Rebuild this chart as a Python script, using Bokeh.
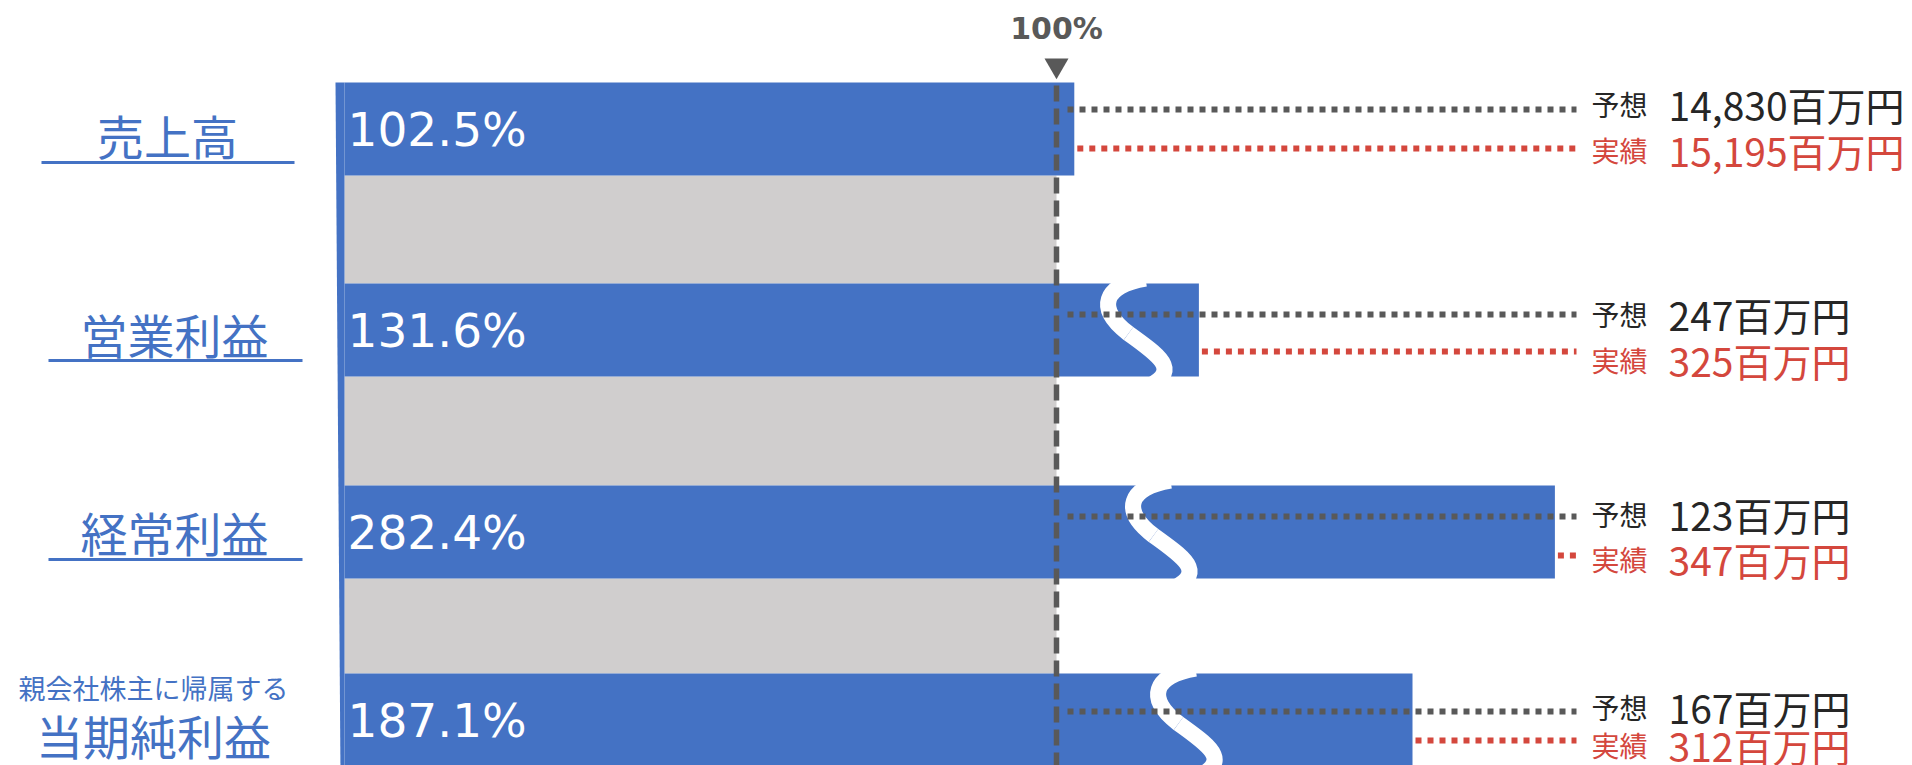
from bokeh.plotting import figure
from bokeh.models import Range1d, ColumnDataSource
from bokeh.core.properties import value
from bokeh.embed import file_html
from bokeh.resources import INLINE

# ---------------- data ----------------
categories = ["売上高", "営業利益", "経常利益", "当期純利益"]
category_prefix = ["", "", "", "親会社株主に帰属する"]
achievement_pct = [102.5, 131.6, 282.4, 187.1]
# bar lengths as drawn on the broken (wavy-cut) axis
drawn_pct = [102.5, 120.0, 170.0, 150.0]
has_break = [False, True, True, True]
forecast_pct = [100, 100, 100, 100]
forecast_mil = [14830, 247, 123, 167]
actual_mil = [15195, 325, 347, 312]
forecast_label = "予想"
actual_label = "実績"
unit = "百万円"
reference_label = "100%"

# ---------------- layout ----------------
W, H = 1912, 765
PX0, PX_PER = 344.0, 7.12          # screen x of 0 %, pixels per 1 %


def xp(px):
    return (px - PX0) / PX_PER


row_top = [82, 283, 485, 673]
bar_h = 93
fc_line_y = [109, 314, 516, 711]
ac_line_y = [148, 351, 555, 740]
fc_text_y = [103, 313, 513, 706]
ac_text_y = [149, 359, 558, 744]
label_cx = [167, 174, 174, 153]
label_cy = [134, 333, 531, 734]
underline_y = [162, 360, 559]
underline_x = [(41, 294), (48, 302), (48, 302)]
break_dx = [0, 1103, 1128, 1153]

BLUE = "#4472C4"
GREY = "#D0CECE"
DARK = "#595959"
RED = "#D4473D"
TXT = "#262626"
JP = value("Noto Sans CJK JP")

p = figure(width=W, height=H, output_backend="svg", toolbar_location=None,
           x_range=Range1d(xp(0), xp(W)), y_range=Range1d(H, 0),
           x_axis_location=None, y_axis_location=None, min_border=0,
           outline_line_color=None, background_fill_color="white")
p.xgrid.visible = False
p.ygrid.visible = False

n = len(categories)

# grey 100% (forecast) bars between the blue ones
g_top, g_bot, g_right = [], [], []
for i in range(n - 1):
    g_top.append(row_top[i] + bar_h)
    g_bot.append(row_top[i + 1])
    g_right.append(forecast_pct[i])
p.quad(left=0, right=g_right, top=g_top, bottom=g_bot, fill_color=GREY, line_color=None)

# blue achievement bars
tops = row_top
bots = [t + bar_h for t in row_top]
p.quad(left=0, right=drawn_pct, top=tops, bottom=bots, fill_color=BLUE, line_color=None)

# thin blue left edge strip
p.patch(x=[xp(335), xp(344), xp(344), xp(340)], y=[row_top[0], row_top[0], H + 10, H + 10],
        fill_color=BLUE, line_color=None)

# wavy break marks
bz = dict(x0=[], y0=[], x1=[], y1=[], cx0=[], cy0=[], cx1=[], cy1=[])
for i in range(n):
    if not has_break[i]:
        continue
    d, T = break_dx[i], row_top[i]
    segs = [((d + 42, T - 5), (d + 0, T + 2), (d - 8, T + 25), (d + 25, T + 50)),
            ((d + 25, T + 50), (d + 55, T + 72), (d + 82, T + 88), (d + 38, T + 106))]
    for (a, c0, c1, b) in segs:
        bz["x0"].append(xp(a[0])); bz["y0"].append(a[1])
        bz["cx0"].append(xp(c0[0])); bz["cy0"].append(c0[1])
        bz["cx1"].append(xp(c1[0])); bz["cy1"].append(c1[1])
        bz["x1"].append(xp(b[0])); bz["y1"].append(b[1])
p.bezier(x0="x0", y0="y0", x1="x1", y1="y1", cx0="cx0", cy0="cy0", cx1="cx1", cy1="cy1",
         source=ColumnDataSource(bz), line_color="white", line_width=16)

# percentage labels inside bars
p.text(x=[xp(347)] * n, y=[t + bar_h / 2 for t in row_top],
       text=[f"{v:.1f}%" for v in achievement_pct],
       text_font=value("DejaVu Sans"), text_font_size="47px", text_color="white",
       text_baseline="middle", text_align="left")

# dotted leader lines
end_x = xp(1576)
p.segment(x0=[xp(1067)] * n, y0=fc_line_y, x1=[end_x] * n, y1=fc_line_y,
          line_color=DARK, line_width=6, line_dash="6 6")
p.segment(x0=[d + 3 / PX_PER for d in drawn_pct], y0=ac_line_y, x1=[end_x] * n, y1=ac_line_y,
          line_color=RED, line_width=6, line_dash="6 6")

# 100% reference dashed line, marker and label
p.segment(x0=[100], y0=[85], x1=[100], y1=[H + 10], line_color=DARK, line_width=5.5,
          line_dash="16 7")
p.scatter(x=[100], y=[65], marker="inverted_triangle", size=24, fill_color=DARK, line_color=None)
p.text(x=[100], y=[28], text=[reference_label], text_font=value("DejaVu Sans"),
       text_font_style="bold", text_font_size="30px", text_color=DARK,
       text_align="center", text_baseline="middle")

# right-hand value texts
p.text(x=[xp(1591)] * n, y=fc_text_y, text=[forecast_label] * n, text_font=JP,
       text_font_size="28px", text_color=TXT, text_baseline="middle", text_align="left")
p.text(x=[xp(1668)] * n, y=fc_text_y, text=[f"{v:,}{unit}" for v in forecast_mil], text_font=JP,
       text_font_size="39px", text_color=TXT, text_baseline="middle", text_align="left")
p.text(x=[xp(1591)] * n, y=ac_text_y, text=[actual_label] * n, text_font=JP,
       text_font_size="28px", text_color=RED, text_baseline="middle", text_align="left")
p.text(x=[xp(1668)] * n, y=ac_text_y, text=[f"{v:,}{unit}" for v in actual_mil], text_font=JP,
       text_font_size="39px", text_color=RED, text_baseline="middle", text_align="left")

# left category labels
p.text(x=[xp(x) for x in label_cx], y=label_cy, text=categories, text_font=JP,
       text_font_size="47px", text_color=BLUE, text_baseline="middle", text_align="center")
pref_i = [i for i in range(n) if category_prefix[i]]
p.text(x=[xp(label_cx[i]) for i in pref_i], y=[687 for i in pref_i],
       text=[category_prefix[i] for i in pref_i], text_font=JP,
       text_font_size="27px", text_color=BLUE, text_baseline="middle", text_align="center")
p.segment(x0=[xp(a) for a, b in underline_x], y0=underline_y,
          x1=[xp(b) for a, b in underline_x], y1=underline_y, line_color=BLUE, line_width=3)

open("out.html", "w").write(file_html(p, INLINE))
